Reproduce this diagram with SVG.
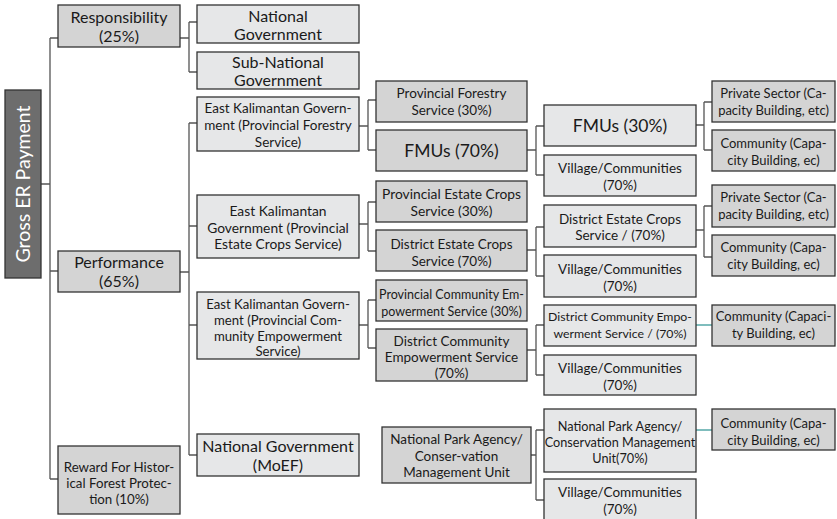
<svg xmlns="http://www.w3.org/2000/svg" width="837" height="519" viewBox="0 0 837 519">
<style>
.b{stroke:#333;stroke-width:1.3}
.d{fill:#d4d4d4}
.l{fill:#e6e7e8}
.r{fill:#6d6d6d}
text{font-family:Lato,"Open Sans","Liberation Sans",sans-serif;fill:#1a1a1a;text-anchor:middle}
.c path{fill:none;stroke:#555;stroke-width:1.3}
.c .t{stroke:#3a9a9a}
</style>
<rect width="837" height="519" fill="#fff"/>
<g class="c">
<path d="M41 184H50M50 38V479M50 38H58M50 271H58M50 479H58"/>
<path d="M180 38H189M189 22V72M189 22H197M189 72H197"/>
<path d="M180 272H189M189 123V455M189 123H197M189 226H197M189 325H197M189 455H197"/>
<path d="M359 126H368M368 100V150M368 100H376M368 150H376"/>
<path d="M359 224H368M368 202V251M368 202H376M368 251H376"/>
<path d="M359 325H368M368 300V348M368 300H376M368 348H376"/>
<path d="M527 150H536M536 126V175M536 126H544M536 175H544"/>
<path d="M527 250H536M536 227V276M536 227H544M536 276H544"/>
<path d="M527 350H536M536 325V375M536 325H544M536 375H544"/>
<path d="M531 455H536M536 430V500M536 430H544M536 500H544"/>
<path d="M696 125H704M704 102V150M704 102H712M704 150H712"/>
<path d="M696 230H704M704 206V257M704 206H712M704 257H712"/>
<path class="t" d="M696 325H712"/>
<path class="t" d="M696 430H712"/>
</g>
<g id="root"><rect class="b r" x="5" y="90" width="36" height="188"/><text transform="translate(29.5 184) rotate(-90)" style="fill:#fff;font-size:19.5px">Gross ER Payment</text></g>
<g id="responsibility"><rect class="b d" x="58" y="5" width="122" height="42"/><text x="119" y="23" font-size="16">Responsibility</text><text x="119" y="42" font-size="16">(25%)</text></g>
<g id="performance"><rect class="b d" x="58" y="251" width="122" height="41"/><text x="119" y="268" font-size="16">Performance</text><text x="119" y="287" font-size="16">(65%)</text></g>
<g id="reward"><rect class="b d" x="58" y="446" width="122" height="68"/><text x="119" y="472" font-size="13.3">Reward For Histor-</text><text x="119" y="488" font-size="13.3">ical Forest Protec-</text><text x="119" y="504" font-size="13.3">tion (10%)</text></g>
<g id="natgov"><rect class="b l" x="197" y="5" width="162" height="38"/><text x="278" y="22" font-size="16">National</text><text x="278" y="40" font-size="16">Government</text></g>
<g id="subnat"><rect class="b l" x="197" y="52" width="162" height="37"/><text x="278" y="68" font-size="16">Sub-National</text><text x="278" y="86" font-size="16">Government</text></g>
<g id="ekforestry"><rect class="b l" x="197" y="97" width="162" height="54"/><text x="278" y="113" font-size="13.5">East Kalimantan Govern-</text><text x="278" y="130" font-size="13.5">ment (Provincial Forestry</text><text x="278" y="147" font-size="13.5">Service)</text></g>
<g id="ekestate"><rect class="b l" x="197" y="195" width="162" height="63"/><text x="278" y="216" font-size="13.8">East Kalimantan</text><text x="278" y="232.5" font-size="13.8">Government (Provincial</text><text x="278" y="249" font-size="13.8">Estate Crops Service)</text></g>
<g id="ekcommunity"><rect class="b l" x="197" y="292" width="162" height="67"/><text x="278" y="309" font-size="13.2">East Kalimantan Govern-</text><text x="278" y="324.8" font-size="13.2">ment (Provincial Com-</text><text x="278" y="340.6" font-size="13.2">munity Empowerment</text><text x="278" y="356.2" font-size="13.2">Service)</text></g>
<g id="moef"><rect class="b l" x="197" y="434" width="162" height="42"/><text x="278" y="452" font-size="16">National Government</text><text x="278" y="471" font-size="16">(MoEF)</text></g>
<g id="provforestry"><rect class="b d" x="376" y="81" width="151" height="41"/><text x="451.5" y="98" font-size="13.5">Provincial Forestry</text><text x="451.5" y="115" font-size="13.5">Service (30%)</text></g>
<g id="fmus70"><rect class="b d" x="376" y="130" width="151" height="41"/><text x="451.5" y="157" font-size="17.5">FMUs (70%)</text></g>
<g id="provestate"><rect class="b d" x="376" y="181" width="151" height="41"/><text x="451.5" y="199" font-size="13.8">Provincial Estate Crops</text><text x="451.5" y="216" font-size="13.8">Service (30%)</text></g>
<g id="distestate"><rect class="b d" x="376" y="230" width="151" height="41"/><text x="451.5" y="249" font-size="13.5">District Estate Crops</text><text x="451.5" y="266" font-size="13.5">Service (70%)</text></g>
<g id="provcommunity"><rect class="b d" x="376" y="280" width="151" height="41"/><text x="451.5" y="299" font-size="12.5">Provincial Community Em-</text><text x="451.5" y="316" font-size="12.5">powerment Service (30%)</text></g>
<g id="distcommunity"><rect class="b d" x="376" y="329" width="151" height="52"/><text x="451.5" y="346" font-size="13.5">District Community</text><text x="451.5" y="362" font-size="13.5">Empowerment Service</text><text x="451.5" y="378" font-size="13.5">(70%)</text></g>
<g id="npa"><rect class="b d" x="382" y="427" width="149" height="56"/><text x="456.5" y="444" font-size="13.5">National Park Agency/</text><text x="456.5" y="460.5" font-size="13.5">Conser-vation</text><text x="456.5" y="477" font-size="13.5">Management Unit</text></g>
<g id="fmus30"><rect class="b l" x="544" y="105" width="152" height="41"/><text x="620" y="132" font-size="17.5">FMUs (30%)</text></g>
<g id="village1"><rect class="b l" x="544" y="155" width="152" height="41"/><text x="620" y="173" font-size="13.5">Village/Communities</text><text x="620" y="190" font-size="13.5">(70%)</text></g>
<g id="decs"><rect class="b l" x="544" y="205" width="152" height="42"/><text x="620" y="224" font-size="13.5">District Estate Crops</text><text x="620" y="240" font-size="13.5">Service / (70%)</text></g>
<g id="village2"><rect class="b l" x="544" y="255" width="152" height="42"/><text x="620" y="274" font-size="13.5">Village/Communities</text><text x="620" y="291" font-size="13.5">(70%)</text></g>
<g id="dce"><rect class="b l" x="544" y="305" width="152" height="41"/><text x="620" y="321" font-size="12.3">District Community Empo-</text><text x="620" y="338" font-size="12.3">werment Service / (70%)</text></g>
<g id="village3"><rect class="b l" x="544" y="355" width="152" height="40"/><text x="620" y="373" font-size="13.5">Village/Communities</text><text x="620" y="390" font-size="13.5">(70%)</text></g>
<g id="npa70"><rect class="b l" x="544" y="409" width="152" height="63"/><text x="620" y="431" font-size="12.7">National Park Agency/</text><text x="620" y="447" font-size="12.7">Conservation Management</text><text x="620" y="463" font-size="12.7">Unit(70%)</text></g>
<g id="village4"><rect class="b l" x="544" y="479" width="152" height="42"/><text x="620" y="497" font-size="13.5">Village/Communities</text><text x="620" y="514" font-size="13.5">(70%)</text></g>
<g id="private1"><rect class="b d" x="712" y="81" width="123" height="41"/><text x="773.5" y="98" font-size="13">Private Sector (Ca-</text><text x="773.5" y="115" font-size="13">pacity Building, etc)</text></g>
<g id="community1"><rect class="b d" x="712" y="130" width="123" height="41"/><text x="773.5" y="148" font-size="13">Community  (Capa-</text><text x="773.5" y="165" font-size="13">city Building, ec)</text></g>
<g id="private2"><rect class="b d" x="712" y="185" width="123" height="42"/><text x="773.5" y="202" font-size="13">Private Sector (Ca-</text><text x="773.5" y="219" font-size="13">pacity Building, etc)</text></g>
<g id="community2"><rect class="b d" x="712" y="235" width="123" height="41"/><text x="773.5" y="252" font-size="13">Community (Capa-</text><text x="773.5" y="269" font-size="13">city Building, ec)</text></g>
<g id="community3"><rect class="b d" x="712" y="305" width="123" height="41"/><text x="773.5" y="321" font-size="13">Community (Capaci-</text><text x="773.5" y="338" font-size="13">ty Building, ec)</text></g>
<g id="community4"><rect class="b d" x="712" y="409" width="123" height="41"/><text x="773.5" y="428" font-size="13">Community (Capa-</text><text x="773.5" y="445" font-size="13">city Building, ec)</text></g>
</svg>
